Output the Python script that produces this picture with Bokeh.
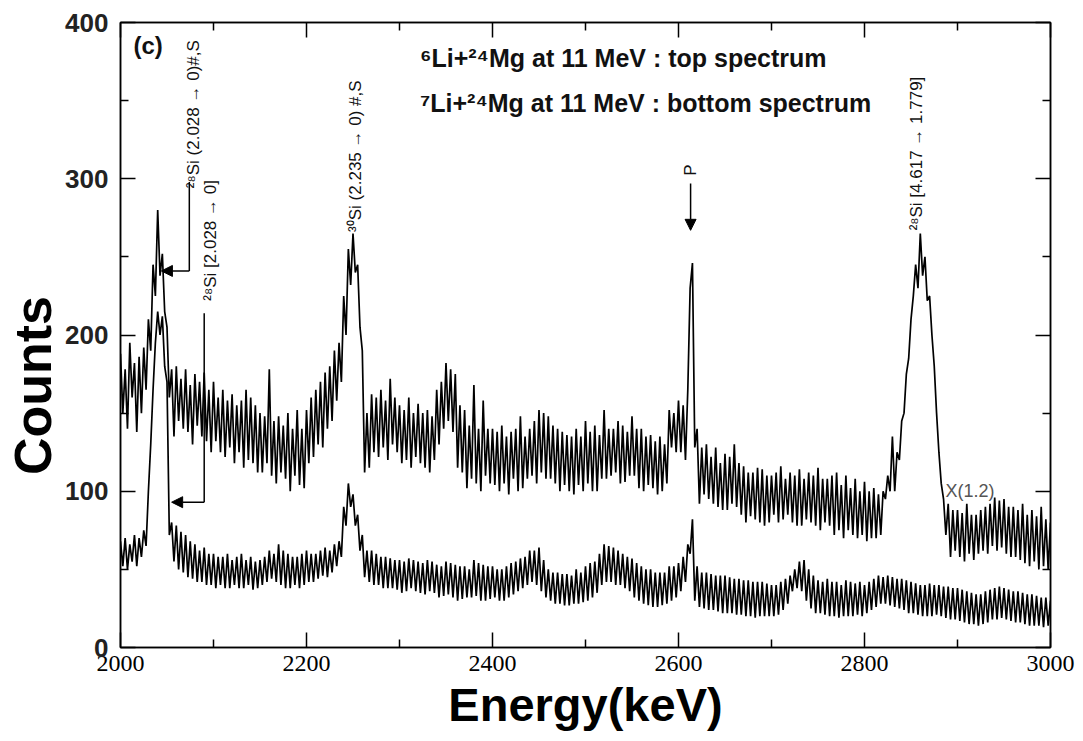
import numpy as np
from bokeh.plotting import figure
from bokeh.models import LinearAxis, FixedTicker, Range1d, Arrow, NormalHead
from bokeh.core.properties import value
from bokeh.embed import file_html
from bokeh.resources import INLINE

# ---------------- data ----------------
# Each spectrum is stored as the upper edge of its noisy band (read every 5 keV,
# starting at 2000 keV) and the lower edge (read every 5 keV, starting at 2002.5 keV).
energy_start = 2000.0
energy_step = 5.0

# 6Li + 24Mg (top spectrum, scaled x1.2)
top_hi = [
    188, 178, 195, 182, 186, 192, 210, 245, 280, 252,
    205, 178, 180, 172, 178, 168, 175, 170, 176, 165,
    170, 160, 165, 158, 162, 155, 158, 165, 160, 155,
    150, 148, 178, 145, 148, 142, 150, 140, 152, 140,
    152, 160, 165, 170, 176, 180, 190, 195, 225, 255,
    265, 245, 190, 150, 162, 160, 165, 158, 172, 160,
    155, 152, 160, 150, 156, 150, 152, 148, 165, 170,
    182, 178, 175, 155, 152, 142, 168, 140, 158, 140,
    140, 138, 142, 135, 138, 140, 148, 135, 140, 145,
    152, 150, 148, 142, 140, 138, 136, 135, 140, 135,
    145, 138, 142, 136, 152, 140, 140, 145, 142, 138,
    148, 140, 140, 135, 136, 132, 135, 130, 152, 150,
    158, 155, 165, 246, 140, 128, 130, 122, 128, 118,
    124, 122, 130, 118, 116, 112, 112, 115, 114, 110,
    110, 112, 116, 108, 112, 110, 114, 108, 112, 110,
    115, 108, 108, 110, 112, 104, 110, 102, 108, 100,
    106, 100, 102, 98, 100, 110, 135, 125, 145, 175,
    210, 245, 265, 250, 225, 180, 125, 95, 92, 88,
    88, 86, 92, 85, 85, 88, 90, 92, 96, 94,
    95, 90, 90, 88, 92, 85, 88, 84, 90, 82,
    80,
]
top_lo = [
    150, 140, 160, 138, 150, 165, 190, 225, 238, 215,
    160, 135, 145, 140, 138, 130, 142, 135, 132, 125,
    132, 125, 122, 128, 118, 125, 115, 120, 118, 112,
    112, 118, 110, 105, 112, 108, 100, 110, 104, 102,
    118, 122, 130, 128, 140, 145, 158, 170, 200, 232,
    240, 205, 112, 115, 125, 122, 128, 120, 130, 125,
    118, 120, 115, 122, 118, 115, 112, 120, 130, 140,
    145, 138, 115, 112, 102, 108, 105, 100, 110, 105,
    104, 100, 105, 98, 108, 100, 102, 108, 110, 105,
    112, 108, 108, 105, 100, 104, 100, 98, 104, 100,
    105, 100, 100, 108, 108, 110, 112, 105, 106, 110,
    110, 102, 100, 104, 102, 98, 100, 105, 128, 125,
    125, 120, 230, 128, 92, 98, 95, 92, 90, 88,
    88, 92, 90, 85, 80, 84, 82, 80, 78, 80,
    85, 80, 82, 85, 80, 78, 78, 82, 80, 78,
    75, 80, 78, 72, 75, 70, 75, 72, 70, 72,
    68, 70, 70, 72, 95, 100, 100, 120, 150, 185,
    225, 230, 238, 222, 200, 150, 105, 72, 58, 62,
    58, 55, 60, 56, 60, 62, 60, 65, 62, 64,
    60, 58, 58, 56, 54, 52, 55, 50, 52, 50,
]

# 7Li + 24Mg (bottom spectrum)
bottom_hi = [
    68, 70, 66, 72, 70, 75, 100, 165, 215, 212,
    170, 80, 78, 74, 72, 68, 66, 62, 64, 60,
    60, 58, 58, 60, 56, 58, 60, 56, 58, 55,
    56, 58, 62, 60, 66, 62, 60, 58, 58, 60,
    62, 60, 60, 62, 64, 62, 66, 68, 90, 105,
    98, 85, 72, 62, 62, 60, 58, 58, 57, 56,
    56, 55, 57, 56, 55, 54, 56, 55, 53, 52,
    55, 54, 53, 52, 52, 50, 56, 54, 53, 52,
    52, 50, 50, 52, 54, 55, 57, 58, 62, 62,
    64, 56, 50, 48, 48, 47, 47, 46, 50, 48,
    52, 54, 55, 60, 66, 65, 64, 62, 60, 58,
    57, 54, 52, 50, 50, 48, 48, 48, 52, 52,
    54, 58, 66, 82, 52, 48, 48, 47, 46, 46,
    46, 45, 44, 44, 43, 43, 42, 42, 42, 41,
    40, 40, 42, 44, 46, 50, 55, 56, 50, 46,
    43, 42, 44, 42, 42, 40, 43, 42, 41, 42,
    40, 42, 44, 46, 45, 46, 45, 44, 44, 43,
    42, 41, 40, 40, 41, 40, 40, 39, 39, 38,
    38, 37, 36, 35, 34, 34, 36, 37, 38, 39,
    38, 37, 36, 36, 35, 34, 34, 33, 32, 32,
    30,
]
bottom_lo = [
    52, 50, 55, 52, 58, 65, 130, 195, 200, 180,
    72, 55, 50, 48, 45, 44, 42, 42, 40, 40,
    38, 40, 38, 38, 40, 38, 38, 40, 37, 38,
    40, 42, 44, 42, 40, 38, 38, 40, 38, 40,
    42, 42, 44, 46, 45, 48, 52, 58, 78, 90,
    78, 62, 45, 42, 40, 40, 38, 38, 38, 37,
    35, 36, 38, 36, 35, 34, 36, 35, 32, 33,
    34, 32, 30, 31, 32, 32, 33, 30, 30, 31,
    32, 30, 30, 32, 34, 36, 38, 40, 42, 40,
    36, 32, 30, 28, 28, 27, 27, 28, 28, 29,
    30, 32, 35, 40, 42, 42, 40, 40, 38, 36,
    32, 30, 28, 27, 26, 26, 27, 28, 30, 32,
    36, 42, 60, 30, 26, 25, 24, 24, 23, 22,
    22, 22, 21, 21, 20, 20, 19, 20, 20, 20,
    20, 21, 24, 28, 36, 38, 36, 30, 25, 22,
    22, 21, 20, 20, 19, 20, 20, 20, 21, 20,
    22, 24, 26, 28, 28, 27, 26, 25, 24, 22,
    22, 21, 20, 20, 20, 21, 20, 19, 18, 18,
    17, 16, 15, 15, 14, 15, 16, 18, 18, 19,
    18, 17, 16, 16, 15, 14, 14, 14, 13, 14,
]

x_ticks = [2000, 2200, 2400, 2600, 2800, 3000]
x_minor_ticks = [2100, 2300, 2500, 2700, 2900]
y_ticks = [0, 100, 200, 300, 400]
y_minor_ticks = [50, 150, 250, 350]

# peak labels (rotated)
peak_label_x = [2078, 2097, 2253, 2613, 2856]
peak_label_y = [294, 222, 266, 302, 267]
peak_labels = ["²⁸Si (2.028 → 0)#,S", "²⁸Si [2.028 → 0]",
               "³⁰Si (2.235 → 0) #,S", "P", "²⁸Si [4.617 → 1.779]"]

# leader lines with arrows
leader_x = [2074, 2090]
leader_top = [298, 214]
leader_bottom = [241, 93]
leader_tip_x = [2044, 2055]

p_arrow = [2613, 297, 267]   # x, start y, end y

legend_lines = ["⁶Li+²⁴Mg at 11 MeV : top spectrum",
                "⁷Li+²⁴Mg at 11 MeV : bottom spectrum"]
legend_x = [2322, 2322]
legend_y = [377, 348.5]


def interleave(hi, lo):
    xs, ys = [], []
    for i, h in enumerate(hi):
        xs.append(energy_start + i * energy_step)
        ys.append(h)
        if i < len(lo):
            xs.append(energy_start + (i + 0.5) * energy_step)
            ys.append(lo[i])
    return xs, ys


top_x, top_y = interleave(top_hi, top_lo)
bot_x, bot_y = interleave(bottom_hi, bottom_lo)

FONT = "Liberation Sans"

p = figure(width=1083, height=741,
           x_range=Range1d(2000, 3000), y_range=Range1d(0, 400),
           output_backend="svg", toolbar_location=None,
           min_border_left=120, min_border_right=33,
           min_border_top=22, min_border_bottom=94)
p.grid.visible = False
p.outline_line_color = "black"
p.outline_line_width = 1.5
p.background_fill_color = "white"
p.border_fill_color = "white"

p.line(top_x, top_y, line_color="black", line_width=1.7)
p.line(bot_x, bot_y, line_color="black", line_width=1.7)


def style_axis(ax, ticks, minor, show_labels):
    ax.ticker = FixedTicker(ticks=ticks, minor_ticks=minor)
    ax.major_tick_in = 15
    ax.major_tick_out = 0
    ax.minor_tick_in = 8
    ax.minor_tick_out = 0
    ax.axis_line_color = "black"
    ax.axis_line_width = 1.5
    ax.major_tick_line_width = 1.5
    ax.minor_tick_line_width = 1.5
    if not show_labels:
        ax.major_label_overrides = {t: "" for t in ticks}
        ax.major_label_text_color = None
        ax.major_label_standoff = 0


xa = p.xaxis[0]
style_axis(xa, x_ticks, x_minor_ticks, True)
xa.major_label_text_font = "Liberation Sans Narrow"
xa.major_label_text_font_size = "24px"
xa.major_label_text_color = "black"
xa.major_label_standoff = 8
xa.axis_label = "Energy(keV)"
xa.axis_label_text_font = FONT
xa.axis_label_text_font_style = "bold"
xa.axis_label_text_font_size = "47px"
xa.axis_label_standoff = 4
xa.axis_label_text_color = "black"

ya = p.yaxis[0]
style_axis(ya, y_ticks, y_minor_ticks, True)
ya.major_label_text_font = FONT
ya.major_label_text_font_style = "bold"
ya.major_label_text_font_size = "26px"
ya.major_label_text_color = "#222222"
ya.major_label_standoff = 12
# trailing no-break spaces push the centred title down, as in the reference
ya.axis_label = "Counts" + "\u00a0" * 7
ya.axis_label_text_font = FONT
ya.axis_label_text_font_style = "bold"
ya.axis_label_text_font_size = "52px"
ya.axis_label_standoff = 0
ya.axis_label_text_color = "black"

top_ax = LinearAxis()
style_axis(top_ax, x_ticks, x_minor_ticks, False)
p.add_layout(top_ax, "above")
right_ax = LinearAxis()
style_axis(right_ax, y_ticks, y_minor_ticks, False)
p.add_layout(right_ax, "right")

# peak labels
p.text(x=peak_label_x, y=peak_label_y, text=peak_labels, angle=np.pi / 2,
       text_align="left", text_baseline="middle",
       text_font=value(FONT), text_font_size="17px", text_color="#111111")

# leader lines
p.segment(x0=leader_x, y0=leader_top, x1=leader_x, y1=leader_bottom,
          line_color="black", line_width=1.5)
for xs, yb, xt in zip(leader_x, leader_bottom, leader_tip_x):
    p.add_layout(Arrow(x_start=xs, y_start=yb, x_end=xt, y_end=yb,
                       line_color="black", line_width=1.5,
                       end=NormalHead(size=11, fill_color="black", line_color="black")))
p.add_layout(Arrow(x_start=p_arrow[0], y_start=p_arrow[1], x_end=p_arrow[0], y_end=p_arrow[2],
                   line_color="black", line_width=1.5,
                   end=NormalHead(size=11, fill_color="black", line_color="black")))

# legend text
p.text(x=legend_x, y=legend_y, text=legend_lines,
       text_align="left", text_baseline="middle",
       text_font=value(FONT), text_font_style="bold",
       text_font_size="25px", text_color="#111111")

# panel tag and scale note
p.text(x=[2014], y=[385], text=["(c)"], text_align="left", text_baseline="middle",
       text_font=value(FONT), text_font_style="bold", text_font_size="24px",
       text_color="#111111")
p.text(x=[2887], y=[100], text=["X(1.2)"], text_align="left", text_baseline="middle",
       text_font=value(FONT), text_font_size="18px", text_color="#555555")

open("out.html", "w").write(file_html(p, INLINE))
